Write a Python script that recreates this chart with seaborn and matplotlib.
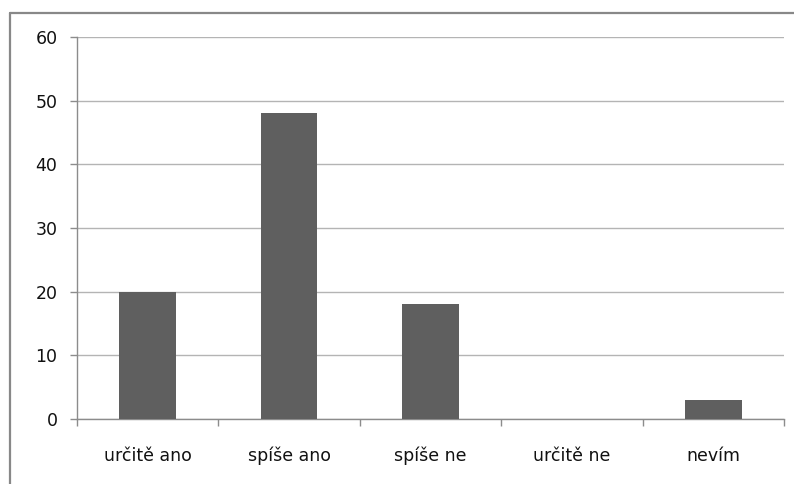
import matplotlib.pyplot as plt
from matplotlib.lines import Line2D
import numpy as np
import seaborn as sns
import pandas as pd

# Data
categories = ['určitě ano', 'spíše ano', 'spíše ne', 'určitě ne', 'nevím']
values = [20, 48, 18, 0, 3]
y_ticks = [0, 10, 20, 30, 40, 50, 60]

df = pd.DataFrame({'odpoved': categories, 'pocet': values})

sns.set_style('white')
plt.rcParams['font.family'] = ['DejaVu Sans']

fig = plt.figure(figsize=(7.94, 4.84), dpi=100)
ax = fig.add_axes([77 / 794, 1 - 419 / 484, (784 - 77) / 794, (419 - 37) / 484])

sns.barplot(data=df, x='odpoved', y='pocet', color='#5f5f5f', width=0.4,
            saturation=1, edgecolor='#5f5f5f', linewidth=0, ax=ax, zorder=3)

ax.set_xlim(-0.5, len(categories) - 0.5)
ax.set_ylim(0, 60)
ax.set_yticks(y_ticks)
ax.set_xlabel('')
ax.set_ylabel('')

# Mřížka
ax.grid(axis='y', color='#b4b4b4', linewidth=1, zorder=0)
ax.grid(axis='x', visible=False)

for side in ['top', 'right']:
    ax.spines[side].set_visible(False)
for side in ['left', 'bottom']:
    ax.spines[side].set_color('#8c8c8c')
    ax.spines[side].set_linewidth(1)

# Hranice kategorií jako vedlejší značky
ax.set_xticks(np.arange(-0.5, len(categories), 1), minor=True)
ax.tick_params(axis='x', which='minor', bottom=True, length=5, width=1, color='#8c8c8c',
               direction='out')
ax.tick_params(axis='x', which='major', bottom=True, length=0, pad=20, labelsize=12.5,
               labelcolor='#111111')
ax.tick_params(axis='y', which='major', left=True, length=5, width=1, color='#8c8c8c',
               direction='out', pad=9, labelsize=12.5, labelcolor='#111111')

# Rámeček grafu (vlevo a nahoře)
fig.add_artist(Line2D([10 / 794, 10 / 794], [0, 1 - 13 / 484], transform=fig.transFigure,
                      color='#888888', linewidth=1.6))
fig.add_artist(Line2D([10 / 794, 1], [1 - 13 / 484, 1 - 13 / 484], transform=fig.transFigure,
                      color='#888888', linewidth=1.6))

fig.savefig('out.png', dpi=100)
